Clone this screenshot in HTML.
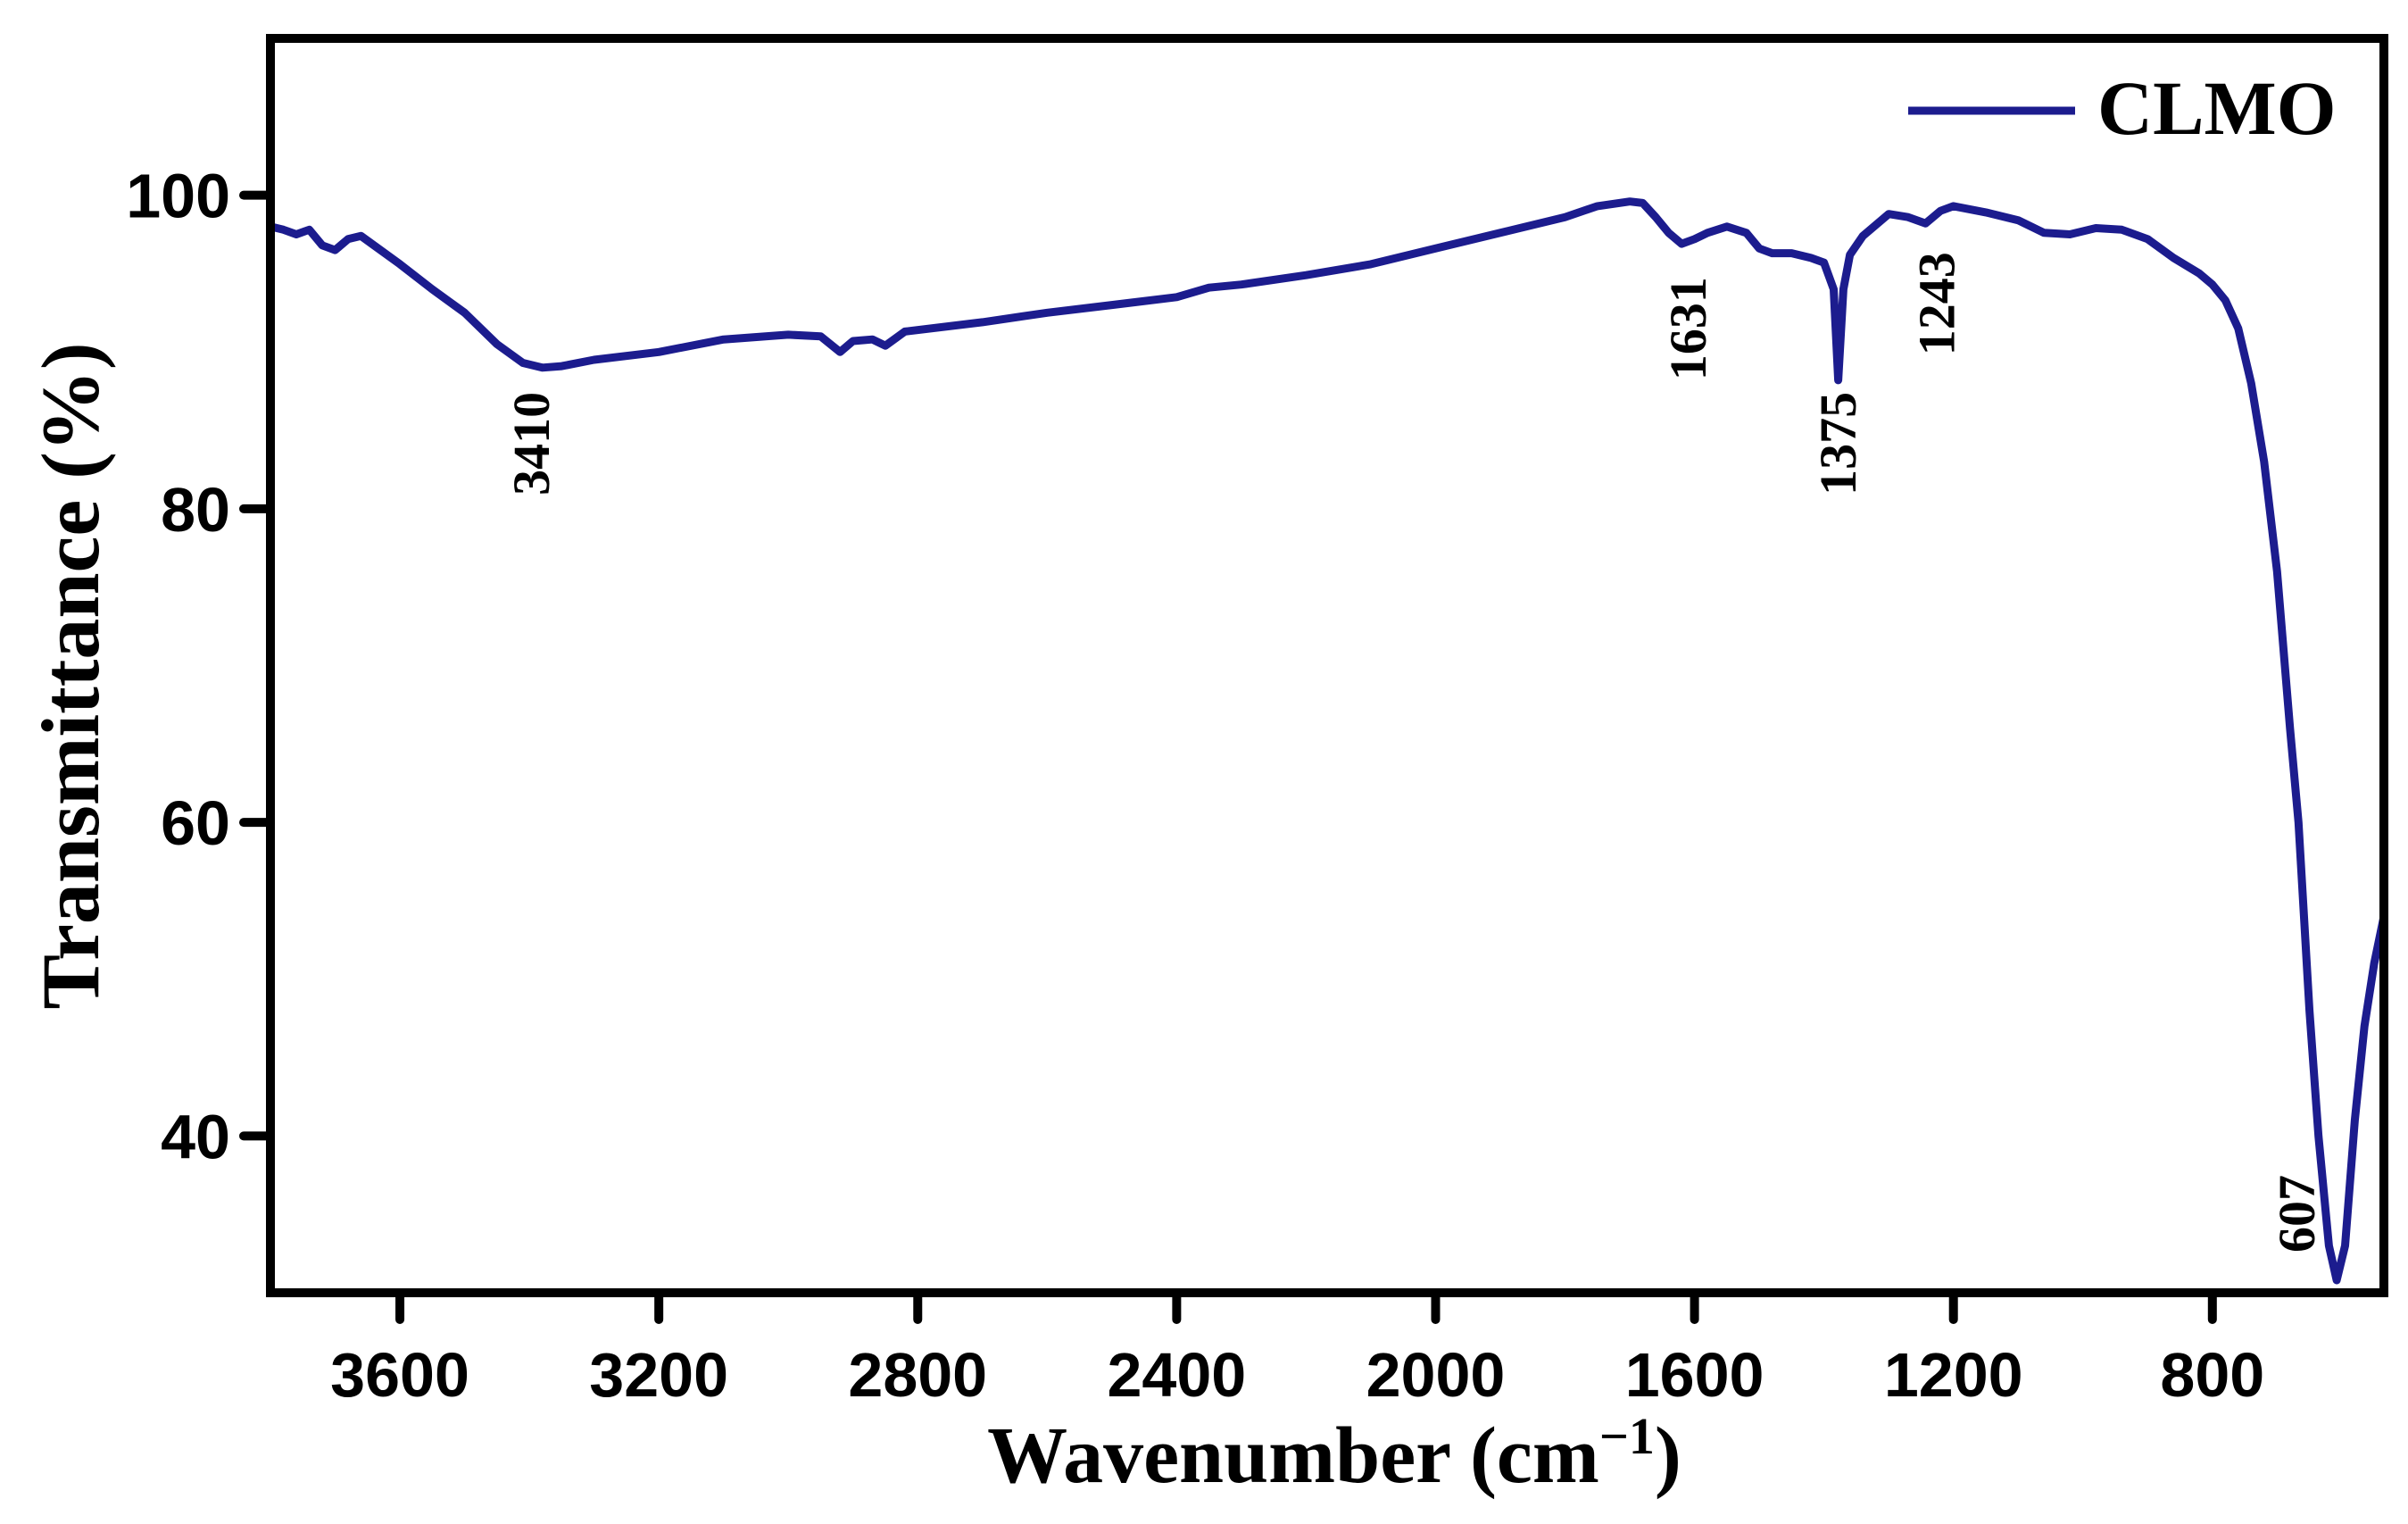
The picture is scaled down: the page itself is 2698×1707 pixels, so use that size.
<!DOCTYPE html>
<html><head><meta charset="utf-8"><style>
html,body{margin:0;padding:0;background:#fff;}
svg{display:block;}
</style></head><body>
<svg id="chart" width="2698" height="1707" viewBox="0 0 2698 1707" xmlns="http://www.w3.org/2000/svg">
<g id="plot"></g>
</svg>
<script>
const wavenumbers=[3800,3780,3760,3740,3720,3700,3680,3660,3640,3600,3550,3500,3450,3410,3380,3350,3300,3200,3100,3000,2950,2920,2900,2870,2850,2820,2700,2600,2500,2400,2350,2300,2200,2100,2000,1900,1800,1750,1700,1680,1660,1640,1620,1600,1580,1550,1520,1500,1480,1450,1420,1400,1385,1378,1370,1360,1340,1300,1270,1243,1220,1200,1150,1100,1060,1020,980,940,900,860,820,800,780,760,740,720,700,680,667,650,636,620,608,595,580,565,550,535];
const transmittance=[98,97.8,97.5,97.8,96.8,96.5,97.2,97.4,96.8,95.6,94,92.5,90.5,89.3,89.0,89.1,89.5,90.0,90.8,91.1,91.0,90.0,90.7,90.8,90.4,91.3,91.9,92.5,93.0,93.5,94.1,94.3,94.9,95.6,96.6,97.6,98.6,99.3,99.6,99.5,98.6,97.6,96.9,97.2,97.6,98.0,97.6,96.6,96.3,96.3,96.0,95.7,94,88.2,94,96.2,97.4,98.8,98.6,98.2,99.0,99.3,98.9,98.4,97.6,97.5,97.9,97.8,97.2,96.0,95.0,94.3,93.3,91.5,88,83,76,66,60,48,40,33,30.8,33,41,47,51,54];
const xTicks=[3600,3200,2800,2400,2000,1600,1200,800];
const yTicks=[100,80,60,40];
const peakLabels=["3410","1631","1375","1243","607"];
const peakPos=[3410,1631,1375,1243,607];
const peakVal=[89.0,96.9,88.2,98.2,30.8];

const L=303,R=2671,T=43,B=1448,XMAX=3800,XMIN=535,YMAX=110,YMIN=30;
const X=w=>L+(XMAX-w)/(XMAX-XMIN)*(R-L);
const Y=v=>T+(YMAX-v)/(YMAX-YMIN)*(B-T);
const NS="http://www.w3.org/2000/svg";
const g=document.getElementById('plot');
function mk(tag,attrs,text){const e=document.createElementNS(NS,tag);for(const k in attrs)e.setAttribute(k,attrs[k]);if(text!==undefined)e.textContent=text;g.appendChild(e);return e;}

let d=wavenumbers.map((w,i)=>(i?'L':'M')+X(w).toFixed(1)+' '+Y(transmittance[i]).toFixed(1)).join(' ');
const line=mk('path',{d:d,fill:'none',stroke:'#1c1c8e','stroke-width':9,'stroke-linejoin':'round','stroke-linecap':'round'});



const frame=mk('rect',{x:L,y:T,width:R-L,height:B-T,fill:'none',stroke:'#000','stroke-width':10});



xTicks.forEach(t=>{
  const tk=mk('line',{x1:X(t),x2:X(t),y1:B,y2:B+30,stroke:'#000','stroke-width':10,'stroke-linecap':'round'});
  
  
  const lb=mk('text',{x:X(t),y:1564,'text-anchor':'middle','font-family':'Liberation Sans, sans-serif','font-weight':'bold','font-size':70},String(t));
  
  
});
yTicks.forEach(t=>{
  const tk=mk('line',{x1:L-30,x2:L,y1:Y(t),y2:Y(t),stroke:'#000','stroke-width':10,'stroke-linecap':'round'});
  
  
  const lb=mk('text',{x:258,y:Y(t)+25,'text-anchor':'end','font-family':'Liberation Sans, sans-serif','font-weight':'bold','font-size':70},String(t));
  
  
});

// peak annotations: offsets (px) of label top relative to the peak point
const offs=[{dx:29,dy:27},{dx:35,dy:37},{dx:17,dy:13},{dx:32,dy:32},{dx:-26,dy:-118}];
peakLabels.forEach((s,i)=>{
  const x=X(peakPos[i])+offs[i].dx, y=Y(peakVal[i])+offs[i].dy;
  const tx=mk('text',{x:x,y:y,transform:`rotate(-90 ${x} ${y})`,'text-anchor':'end','font-family':'Liberation Serif, serif','font-weight':'bold','font-size':58},s);
  
  
});

const lg=mk('line',{x1:2138,x2:2325,y1:124,y2:124,stroke:'#1c1c8e','stroke-width':9});


const lt=mk('text',{x:2350,y:150,'font-family':'Liberation Serif, serif','font-weight':'bold','font-size':86},'CLMO');



const xt=mk('text',{x:1495,y:1660,'text-anchor':'middle','font-family':'Liberation Serif, serif','font-weight':'bold','font-size':90});
xt.innerHTML='Wavenumber (cm<tspan dy="-32" font-size="58">−1</tspan><tspan dy="32">)</tspan>';


const yt=mk('text',{x:110,y:757,transform:'rotate(-90 110 757)','text-anchor':'middle','font-family':'Liberation Serif, serif','font-weight':'bold','font-size':92},'Transmittance (%)');


</script>
</body></html>
